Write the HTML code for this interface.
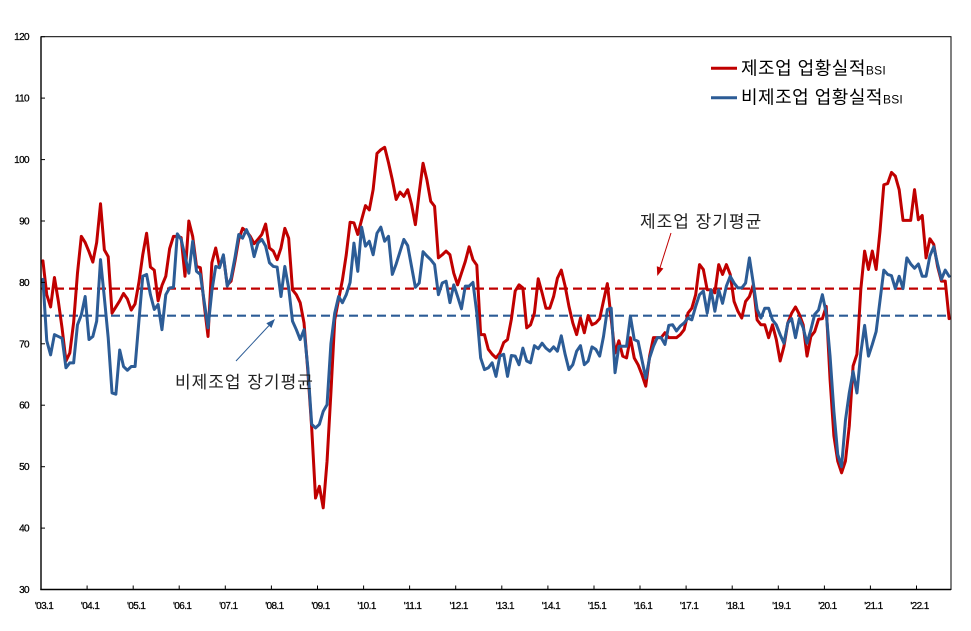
<!DOCTYPE html>
<html>
<head>
<meta charset="utf-8">
<style>
  html,body{margin:0;padding:0;background:#fff;}
  svg{display:block;}
  .tk{font-family:"Liberation Sans",sans-serif;font-size:10px;fill:#000;stroke:#000;stroke-width:0.25;letter-spacing:-0.6px;}
  .kr{font-family:"Liberation Sans","Noto Sans CJK KR",sans-serif;}
</style>
</head>
<body>
<svg width="971" height="631" viewBox="0 0 971 631" xmlns="http://www.w3.org/2000/svg">
  <rect x="0" y="0" width="971" height="631" fill="#fff"/>

  <!-- long-run average dashed lines -->
  <line x1="41" y1="288.6" x2="951" y2="288.6" stroke="#C00000" stroke-width="2.2" stroke-dasharray="9,5"/>
  <line x1="41" y1="315.7" x2="951" y2="315.7" stroke="#2C5C96" stroke-width="2.2" stroke-dasharray="9,5"/>

  <!-- series: x = 42.92 + 3.8397*i ; y = 773.76 - 6.142*v -->
  <g transform="translate(42.92,773.76) scale(3.8397,-6.142)">
    <polyline fill="none" stroke="#C00000" stroke-width="3" stroke-linejoin="round" stroke-linecap="round" vector-effect="non-scaling-stroke"
      points="0,83.5 1,78 2,76 3,80.8 4,77 5,72.5 6,67.2 7,68.5 8,73.5 9,81.5 10,87.5 11,86.5 12,85 13,83.3 14,86.5 15,92.8 16,85.3 17,84.2 18,75 19,76 20,77 21,78.2 22,77.3 23,75.5 24,76.5 25,80 26,84.5 27,88 28,82.5 29,82 30,77 31,79.5 32,81 33,85.5 34,87.5 35,87.5 36,87.3 37,81 38,90 39,87.5 40,82.6 41,82.4 42,76.4 43,71.2 44,83.2 45,85.6 46,82.6 47,84.3 48,79.6 49,80.2 50,83.4 51,87 52,88.8 53,88.3 54,87.5 55,86.3 56,87 57,87.8 58,89.5 59,85.6 60,85.1 61,83.7 62,85.6 63,88.8 64,87.2 65,78.8 66,78 67,76.7 68,73.4 69,65.5 70,56.3 71,44.9 72,46.8 73,43.3 74,50.9 75,62 76,73.9 77,77.2 78,80.4 79,84.5 80,89.8 81,89.7 82,87.8 83,90.2 84,92.5 85,91.8 86,95.1 87,101 88,101.6 89,102 90,99.5 91,96.7 92,93.5 93,94.7 94,94 95,95.1 96,92.7 97,89.4 98,94.6 99,99.4 100,96.7 101,93.2 102,92.4 103,84 104,84.5 105,85.1 106,84.5 107,81.5 108,79.6 109,81.5 110,83.4 111,85.8 112,83.7 113,82.8 114,71.5 115,71.5 116,69.1 117,68.3 118,67.7 119,68.5 120,70.2 121,70.7 122,74 123,78.6 124,79.6 125,79.1 126,72.6 127,73.1 128,75 129,80.6 130,78.3 131,75.8 132,75.8 133,77.7 134,80.7 135,82 136,79.4 137,76.1 138,73.4 139,71.5 140,74.2 141,71.8 142,74.6 143,73.1 144,73.4 145,74.1 146,77 147,79.8 148,74 149,68.5 150,70.5 151,68 152,67.7 153,71 154,67.7 155,66.6 156,65 157,63.1 158,68 159,71 160,71 161,71 162,71.8 163,71 164,71 165,71 166,71.5 167,72.3 168,75 169,75.8 170,78 171,82.9 172,82.1 173,78.8 174,78.8 175,78.3 176,82.9 177,81.3 178,82.9 179,81.3 180,76.9 181,75.3 182,74.2 183,76.9 184,77.7 185,79.6 186,73.9 187,73.1 188,73.1 189,71 190,73.1 191,70.7 192,67.2 193,69.6 194,73.4 195,75 196,76 197,74.8 198,73.1 199,68 200,71.2 201,72 202,74 203,74.1 204,76.1 205,64.2 206,55 207,50.9 208,49 209,50.9 210,56.6 211,66.4 212,68.3 213,78.8 214,85.1 215,82.1 216,85.1 217,82.1 218,88.3 219,95.9 220,96.1 221,97.9 222,97.3 223,95.1 224,90.1 225,90.1 226,90.1 227,95.1 228,90.2 229,90.9 230,84 231,87.1 232,86.2 233,82.6 234,80.2 235,80.2 236,74.1"/>
    <polyline fill="none" stroke="#2C5C96" stroke-width="3" stroke-linejoin="round" stroke-linecap="round" vector-effect="non-scaling-stroke"
      points="0,80.5 1,70.5 2,68.2 3,71.5 4,71.2 5,70.9 6,66.1 7,66.9 8,66.9 9,73.1 10,74.7 11,77.7 12,70.7 13,71.2 14,73.7 15,83.7 16,77.5 17,71 18,62 19,61.8 20,69 21,66.3 22,65.7 23,66.3 24,66.3 25,73.7 26,81 27,81.3 28,78 29,75.6 30,76.4 31,72.3 32,78 33,79.1 34,79.2 35,87.9 36,87 37,84.3 38,81.5 39,86.7 40,81.8 41,81.3 42,76.9 43,72.6 44,78.6 45,82.6 46,82.4 47,84.5 48,79.4 49,80.7 50,84 51,87.8 52,87.2 53,88.6 54,87.2 55,84.2 56,86.4 57,87 58,85.9 59,83.2 60,82.6 61,82.5 62,77.7 63,82.6 64,79.1 65,73.7 66,72.3 67,70.7 68,72.3 69,66.1 70,56.9 71,56.3 72,56.9 73,59 74,60.1 75,70 76,75 77,77.7 78,76.7 79,78 80,80 81,86.4 82,81.8 83,89 84,85.9 85,86.7 86,84.5 87,88 88,89 89,86.7 90,87.5 91,81.3 92,83 93,85 94,87 95,86 96,82.6 97,79.2 98,79.9 99,85 100,84.3 101,83.7 102,82.9 103,78 104,79.9 105,80.2 106,76.7 107,79.6 108,77.7 109,75.7 110,79.4 111,79.4 112,80 113,75 114,67.7 115,65.8 116,66.1 117,66.9 118,64.7 119,68 120,68.3 121,64.7 122,68.1 123,68 124,66.6 125,69.3 126,67.2 127,66.9 128,69.7 129,69.2 130,70.1 131,69.3 132,68.8 133,69.5 134,68.8 135,71.3 136,68.3 137,65.8 138,66.6 139,68.8 140,69.7 141,66.6 142,67.2 143,69.5 144,69.1 145,68 146,71.2 147,75.6 148,75.8 149,65.3 150,69.6 151,69.6 152,69.6 153,74.5 154,70.7 155,70.4 156,67.4 157,64.4 158,67.7 159,69.6 160,71 161,71 162,69.9 163,73 164,73.1 165,72.1 166,72.9 167,73.4 168,74.2 169,73.9 170,76.1 171,78 172,78.6 173,75 174,78.8 175,75.3 176,78.8 177,76.6 178,79.4 179,81 180,79.9 181,79.1 182,79.1 183,79.9 184,84 185,79.9 186,75.6 187,74.2 188,75.8 189,75.8 190,73.9 191,73.1 192,71.5 193,70.1 194,73.4 195,74.1 196,71 197,74.1 198,72.6 199,70.1 200,72.3 201,74.8 202,75.5 203,78 204,75 205,68 206,59 207,52 208,50 209,57.5 210,62 211,65.5 212,62 213,68.5 214,73 215,68 216,69.9 217,72 218,77 219,82 220,81.3 221,81.1 222,79 223,81 224,79 225,84 226,83 227,82.3 228,83 229,81 230,81 231,84.3 232,85.8 233,83 234,80.5 235,82 236,81"/>
  </g>

  <!-- frame -->
  <rect x="41" y="36.7" width="910" height="552.8" fill="none" stroke="#000" stroke-width="1"/>
  <line x1="41" y1="36.7" x2="41" y2="590" stroke="#000" stroke-width="1.4"/>
  <line x1="40.3" y1="589.5" x2="951" y2="589.5" stroke="#000" stroke-width="1.4"/>

  <!-- y ticks -->
  <g stroke="#000" stroke-width="1">
    <line x1="41" y1="36.7" x2="45" y2="36.7"/>
    <line x1="41" y1="98.1" x2="45" y2="98.1"/>
    <line x1="41" y1="159.6" x2="45" y2="159.6"/>
    <line x1="41" y1="221.0" x2="45" y2="221.0"/>
    <line x1="41" y1="282.4" x2="45" y2="282.4"/>
    <line x1="41" y1="343.8" x2="45" y2="343.8"/>
    <line x1="41" y1="405.2" x2="45" y2="405.2"/>
    <line x1="41" y1="466.7" x2="45" y2="466.7"/>
    <line x1="41" y1="528.1" x2="45" y2="528.1"/>
  </g>
  <g class="tk" text-anchor="end">
    <text x="29" y="40.2">120</text>
    <text x="29" y="101.6">110</text>
    <text x="29" y="163.1">100</text>
    <text x="29" y="224.5">90</text>
    <text x="29" y="285.9">80</text>
    <text x="29" y="347.3">70</text>
    <text x="29" y="408.7">60</text>
    <text x="29" y="470.2">50</text>
    <text x="29" y="531.6">40</text>
    <text x="29" y="593">30</text>
  </g>

  <!-- x ticks -->
  <g stroke="#000" stroke-width="1">
    <line x1="87.1" y1="589.5" x2="87.1" y2="585.5"/>
    <line x1="133.2" y1="589.5" x2="133.2" y2="585.5"/>
    <line x1="179.2" y1="589.5" x2="179.2" y2="585.5"/>
    <line x1="225.3" y1="589.5" x2="225.3" y2="585.5"/>
    <line x1="271.4" y1="589.5" x2="271.4" y2="585.5"/>
    <line x1="317.5" y1="589.5" x2="317.5" y2="585.5"/>
    <line x1="363.6" y1="589.5" x2="363.6" y2="585.5"/>
    <line x1="409.6" y1="589.5" x2="409.6" y2="585.5"/>
    <line x1="455.7" y1="589.5" x2="455.7" y2="585.5"/>
    <line x1="501.8" y1="589.5" x2="501.8" y2="585.5"/>
    <line x1="547.9" y1="589.5" x2="547.9" y2="585.5"/>
    <line x1="594.0" y1="589.5" x2="594.0" y2="585.5"/>
    <line x1="640.0" y1="589.5" x2="640.0" y2="585.5"/>
    <line x1="686.1" y1="589.5" x2="686.1" y2="585.5"/>
    <line x1="732.2" y1="589.5" x2="732.2" y2="585.5"/>
    <line x1="778.3" y1="589.5" x2="778.3" y2="585.5"/>
    <line x1="824.4" y1="589.5" x2="824.4" y2="585.5"/>
    <line x1="870.4" y1="589.5" x2="870.4" y2="585.5"/>
    <line x1="916.5" y1="589.5" x2="916.5" y2="585.5"/>
  </g>
  <g class="tk" text-anchor="middle">
    <text x="44" y="609">'03.1</text>
    <text x="90.1" y="609">'04.1</text>
    <text x="136.2" y="609">'05.1</text>
    <text x="182.2" y="609">'06.1</text>
    <text x="228.3" y="609">'07.1</text>
    <text x="274.4" y="609">'08.1</text>
    <text x="320.5" y="609">'09.1</text>
    <text x="366.6" y="609">'10.1</text>
    <text x="412.6" y="609">'11.1</text>
    <text x="458.7" y="609">'12.1</text>
    <text x="504.8" y="609">'13.1</text>
    <text x="550.9" y="609">'14.1</text>
    <text x="597" y="609">'15.1</text>
    <text x="643" y="609">'16.1</text>
    <text x="689.1" y="609">'17.1</text>
    <text x="735.2" y="609">'18.1</text>
    <text x="781.3" y="609">'19.1</text>
    <text x="827.4" y="609">'20.1</text>
    <text x="873.4" y="609">'21.1</text>
    <text x="919.5" y="609">'22.1</text>
  </g>

  <!-- legend -->
  <line x1="711" y1="68.3" x2="737" y2="68.3" stroke="#C00000" stroke-width="3"/>
  <line x1="711" y1="97.7" x2="737" y2="97.7" stroke="#2C5C96" stroke-width="3"/>
  <text class="kr" x="741" y="74.5" font-size="18" fill="#000" letter-spacing="0.5">제조업 업황실적<tspan font-family="Liberation Sans, sans-serif" font-size="12" letter-spacing="0.2">BSI</tspan></text>
  <text class="kr" x="741" y="103.5" font-size="18" fill="#000" letter-spacing="0.5">비제조업 업황실적<tspan font-family="Liberation Sans, sans-serif" font-size="12" letter-spacing="0.2">BSI</tspan></text>

  <!-- annotations -->
  <text class="kr" x="640" y="227.5" font-size="17" fill="#222" letter-spacing="1.0">제조업 장기평균</text>
  <line x1="671" y1="233" x2="660.1" y2="267.4" stroke="#C00000" stroke-width="1"/>
  <polygon points="657.3,276 663.4,268.5 656.8,266.3" fill="#C00000"/>

  <text class="kr" x="175" y="388" font-size="17" fill="#222" letter-spacing="1.0">비제조업 장기평균</text>
  <line x1="236" y1="361" x2="268.9" y2="325.6" stroke="#2C5C96" stroke-width="1"/>
  <polygon points="275,319 271.4,328 266.3,323.2" fill="#2C5C96"/>
</svg>
</body>
</html>
